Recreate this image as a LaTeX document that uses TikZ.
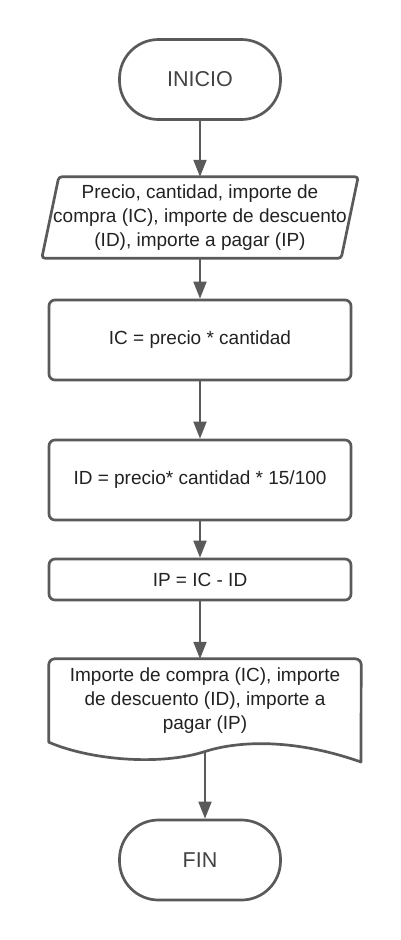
\documentclass[tikz,border=0pt]{standalone}
\usepackage{fontspec}
\setmainfont{Liberation Sans}
\usetikzlibrary{arrows.meta,calc}
\definecolor{ln}{HTML}{5A5A5A}
\definecolor{tx}{HTML}{222222}
\begin{document}
\begin{tikzpicture}[x=1bp,y=-1bp,
  base/.style={font=\fontsize{19bp}{24bp}\selectfont, text=tx, align=center, inner sep=0pt},
  term/.style={base, font=\fontsize{21.5bp}{26bp}\selectfont, text=tx!85!white, draw=ln, line width=2.7bp, fill=white, rounded corners=39bp, minimum width=161bp, minimum height=80bp},
  proc/.style={base, draw=ln, line width=2.7bp, fill=white, rounded corners=6bp, minimum width=302bp},
  shp/.style={draw=ln, line width=2.7bp, line join=round},
  arr/.style={draw=ln, line width=2bp, -{Triangle[length=17bp,width=13bp]}}]
\useasboundingbox[fill=white] (0,0) rectangle (400,940);

\node[term] (ini) at (200,79.5) {INICIO};

\node[base, minimum width=316bp, minimum height=81bp] (in) at (200,217.5)
  {Precio, cantidad, importe de\\compra (IC), importe de descuento\\(ID), importe a pagar (IP)};
\draw[shp, rounded corners=3bp] ($(in.north west)+(17,0)$) -- (in.north east)
  -- ($(in.south east)+(-17,0)$) -- (in.south west) -- cycle;

\node[proc, minimum height=80bp] (b1) at (200,340) {IC = precio * cantidad};
\node[proc, minimum height=80bp] (b2) at (200,480) {ID = precio* cantidad * 15/100};
\node[proc, minimum height=41bp] (b3) at (200,579.5) {IP = IC - ID};

\node[base, minimum width=312bp, minimum height=83bp] (doc) at (205,700.5)
  {Importe de compra (IC), importe\\de descuento (ID), importe a\\pagar (IP)};
\draw[shp] (doc.south west) {[rounded corners=6bp] -- (doc.north west) -- (doc.north east)}
  -- (361,762) .. controls (290,737) and (235,741.8) .. (205,751.5)
  .. controls (160,766) and (90,760) .. (doc.south west) -- cycle;
\coordinate (docb) at (205,751.5);

\node[term] (fin) at (200,860) {FIN};

\draw[arr] (ini.south) -- (in.north);
\draw[arr] (in.south) -- (b1.north);
\draw[arr] (b1.south) -- (b2.north);
\draw[arr] (b2.south) -- (b3.north);
\draw[arr] (b3.south) -- (b3.south |- doc.north);
\draw[arr] (docb) -- (docb |- fin.north);
\end{tikzpicture}
\end{document}
